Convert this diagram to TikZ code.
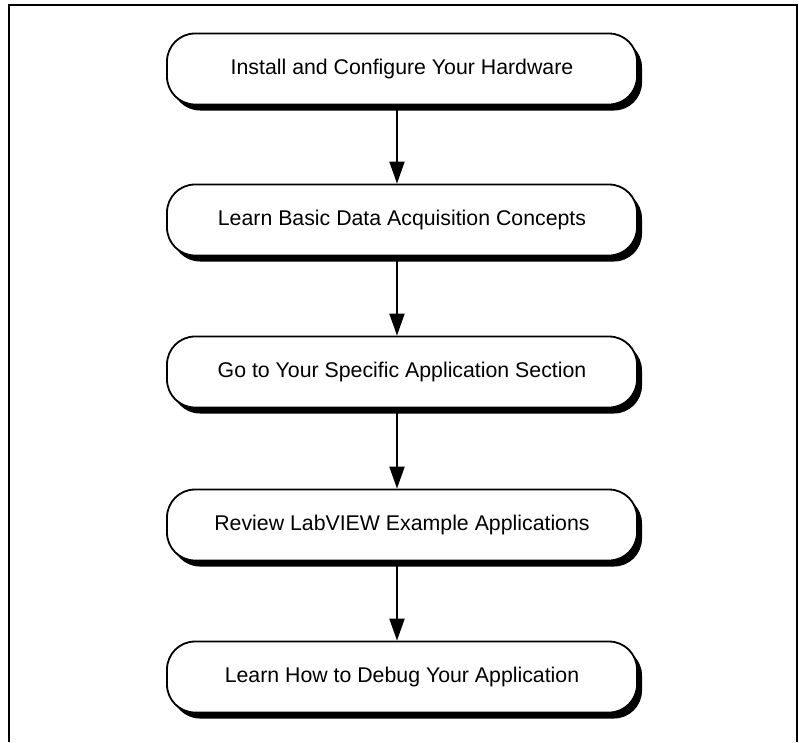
\documentclass[tikz,border=0pt]{standalone}
\usepackage{fontspec}
\setmainfont{Liberation Sans}
\usetikzlibrary{arrows.meta,shadows}

\begin{document}
\begin{tikzpicture}[x=1pt, y=-1pt,
    stepbox/.style={draw, line width=1.8pt, rounded corners=28pt, fill=white,
        minimum width=470pt, minimum height=71pt, inner sep=0pt,
        font=\fontsize{21.3}{25}\selectfont,
        drop shadow={shadow xshift=5pt, shadow yshift=-6pt, opacity=1, fill=black}},
    flow/.style={line width=2pt, -{Triangle[length=22pt, width=15pt]}}]
        \useasboundingbox (0, 0) rectangle (799, 742);
        % Frame
        \draw[line width=2pt] (9, 742) -- (9, 5) -- (797, 5) -- (797, 742);
        % Steps
        \node (s1) at (402, 69) [stepbox] {Install and Configure Your Hardware};
        \node (s2) at (402, 220) [stepbox] {Learn Basic Data Acquisition Concepts};
        \node (s3) at (402, 372) [stepbox] {Go to Your Specific Application Section};
        \node (s4) at (402, 525) [stepbox] {Review LabVIEW Example Applications};
        \node (s5) at (402, 677) [stepbox] {Learn How to Debug Your Application};
        % Arrows
        \draw[flow] ([xshift=-5pt]s1.south) -- ([xshift=-5pt]s2.north);
        \draw[flow] ([xshift=-5pt]s2.south) -- ([xshift=-5pt]s3.north);
        \draw[flow] ([xshift=-5pt]s3.south) -- ([xshift=-5pt]s4.north);
        \draw[flow] ([xshift=-5pt]s4.south) -- ([xshift=-5pt]s5.north);
    \end{tikzpicture}
\end{document}
